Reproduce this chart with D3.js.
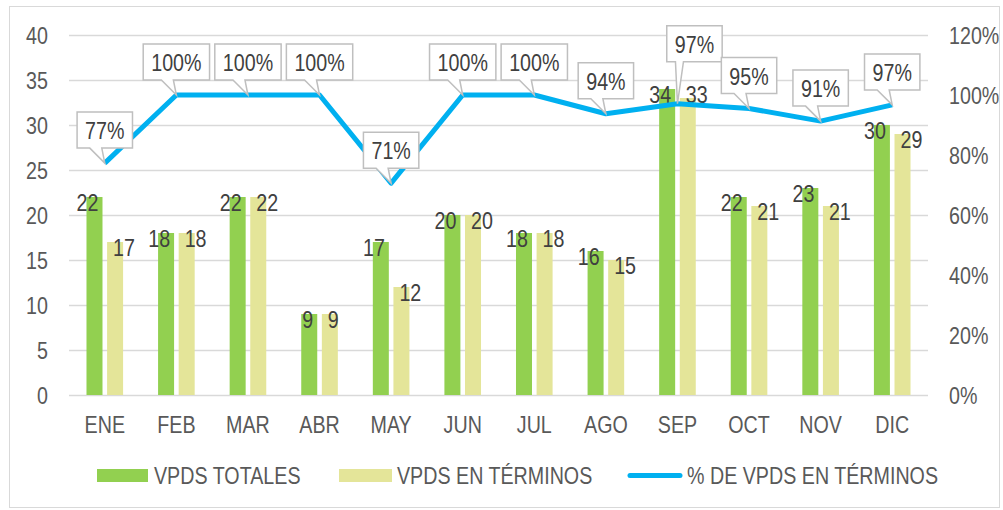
<!DOCTYPE html>
<html><head><meta charset="utf-8">
<script src="https://cdn.jsdelivr.net/npm/d3@7"></script>
<style>
html,body{margin:0;padding:0;background:#fff;}
svg text{font-family:"Liberation Sans",Arial,sans-serif;}
</style></head>
<body>
<svg id="c" width="1003" height="510"></svg>
<script>
const categories = ["ENE","FEB","MAR","ABR","MAY","JUN","JUL","AGO","SEP","OCT","NOV","DIC"];
const vpdsTotales = [22,18,22,9,17,20,18,16,34,22,23,30];
const vpdsEnTerminos = [17,18,22,9,12,20,18,15,33,21,21,29];
const pctEnTerminos = [0.773,1,1,1,0.706,1,1,0.9375,0.971,0.955,0.913,0.967];
const pctLabels = ["77%","100%","100%","100%","71%","100%","100%","94%","97%","95%","91%","97%"];
const leftTicks = [0,5,10,15,20,25,30,35,40];
const rightTicks = [0,0.2,0.4,0.6,0.8,1.0,1.2];
const seriesNames = ["VPDS TOTALES","VPDS EN TÉRMINOS","% DE VPDS EN TÉRMINOS"];

const colors = {green:"#92d050", yellow:"#e4e599", blue:"#00b0f0", grid:"#d9d9d9", axisText:"#595959", label:"#404040", callout:"#bfbfbf"};
const SX = 0.82; // narrow face emulation
const svg = d3.select("#c");
const plot = {left:69, right:928, top:35, bottom:395};

function condense(sel){
  sel.each(function(){
    const t = d3.select(this);
    const xx = +(t.attr("x")||0), yy = +(t.attr("y")||0);
    t.attr("x",0).attr("y",0).attr("transform",`translate(${xx},${yy}) scale(${SX},1)`);
  });
}

// outer frame
svg.append("rect").attr("x",9.5).attr("y",6.5).attr("width",990).attr("height",501)
  .attr("fill","#fff").attr("stroke","#d9d9d9").attr("stroke-width",1);

const x = d3.scaleBand().domain(categories).range([plot.left, plot.right]).paddingInner(0).paddingOuter(0);
const xs = d3.scaleBand().domain([0,1]).range([x.bandwidth()/2 - 18.3, x.bandwidth()/2 + 18.3]).paddingInner(0.223);
const y = d3.scaleLinear().domain([0,40]).range([plot.bottom, plot.top]);
const y2 = d3.scaleLinear().domain([0,1.2]).range([plot.bottom, plot.top]);

// gridlines
svg.append("g").selectAll("line").data(leftTicks).join("line")
  .attr("x1",plot.left).attr("x2",plot.right)
  .attr("y1",d=>Math.round(y(d))+0.5).attr("y2",d=>Math.round(y(d))+0.5)
  .attr("stroke",colors.grid).attr("stroke-width",1.3);

// left axis
const gl = svg.append("g").attr("transform",`translate(${plot.left},0)`)
  .call(d3.axisLeft(y).tickValues(leftTicks).tickSize(0).tickPadding(21));
gl.select(".domain").remove();
gl.selectAll("text").attr("font-size",24).attr("fill",colors.axisText).attr("font-family",null).attr("dy","0.36em").call(condense);

// right axis
const gr = svg.append("g").attr("transform",`translate(${plot.right},0)`)
  .call(d3.axisRight(y2).tickValues(rightTicks).tickSize(0).tickPadding(21).tickFormat(d3.format(".0%")));
gr.select(".domain").remove();
gr.selectAll("text").attr("font-size",24).attr("fill",colors.axisText).attr("font-family",null).attr("dy","0.36em").call(condense);

// x axis
const gx = svg.append("g").attr("transform",`translate(0,${plot.bottom})`)
  .call(d3.axisBottom(x).tickSize(0).tickPadding(21));
gx.select(".domain").remove();
gx.selectAll("text").attr("font-size",24).attr("fill",colors.axisText).attr("font-family",null).attr("dy","0.71em").call(condense);

// bars
const barData = categories.map((c,i)=>({c, v:[vpdsTotales[i], vpdsEnTerminos[i]]}));
const labelShift = {"SEP-1":-9};
const gb = svg.append("g");
const groups = gb.selectAll("g").data(barData).join("g").attr("transform",d=>`translate(${x(d.c)},0)`);
groups.selectAll("rect").data(d=>d.v.map((v,k)=>({v,k}))).join("rect")
  .attr("x",d=>xs(d.k)).attr("width",xs.bandwidth())
  .attr("y",d=>y(d.v)).attr("height",d=>y(0)-y(d.v))
  .attr("fill",d=>d.k===0?colors.green:colors.yellow);

// line
const cx = c => x(c) + x.bandwidth()/2;
const line = d3.line().x((d,i)=>cx(categories[i])).y(d=>y2(d));
svg.append("path").datum(pctEnTerminos).attr("d",line)
  .attr("fill","none").attr("stroke",colors.blue).attr("stroke-width",5).attr("stroke-linejoin","round");

// bar labels
groups.selectAll("text").data(d=>d.v.map((v,k)=>({v,k,c:d.c}))).join("text")
  .attr("x",d=>d.k===0 ? xs(0)+xs.bandwidth()/2+4 : xs(1)+xs.bandwidth()/2-2)
  .attr("y",d=>y(d.v)+14+(labelShift[d.c+"-"+d.k]||0))
  .attr("text-anchor",d=>d.k===0?"end":"start")
  .attr("font-size",24).attr("fill",colors.label)
  .text(d=>d.v).call(condense);
gb.raise();
svg.selectAll("path").filter(function(){return d3.select(this).attr("stroke")===colors.blue;}).raise();

// callouts
const adjust = {SEP:{dx:17, dy:-27, tail:[-2,6]}};
const gc = svg.append("g");
pctEnTerminos.forEach((p,i)=>{
  const c = categories[i];
  const tx = cx(c), ty = y2(p);
  const lab = pctLabels[i];
  const a = adjust[c] || {dx:0, dy:0, tail:[-15,-3]};
  const t = gc.append("text").attr("font-size",24).attr("fill",colors.label).attr("text-anchor","middle").text(lab);
  const w = t.node().getComputedTextLength()*SX + 16;
  const h = 36;
  const bx = tx + a.dx - w/2, bb = ty - 15 + a.dy, by = bb - h;
  const tl = tx + a.tail[0], trr = tx + a.tail[1];
  const path = `M${bx},${by}H${bx+w}V${bb}H${trr}L${tx},${ty}L${tl},${bb}H${bx}Z`;
  gc.insert("path","text").attr("d",path).attr("fill","#fff").attr("stroke",colors.callout).attr("stroke-width",1.5);
  t.attr("x",bx+w/2).attr("y",by+h/2+9).call(condense);
});

// legend
const lg = svg.append("g");
lg.append("rect").attr("x",97).attr("y",469).attr("width",51).attr("height",13).attr("fill",colors.green);
lg.append("text").attr("x",154).attr("y",484).attr("font-size",24).attr("fill",colors.axisText).text(seriesNames[0]).call(condense);
lg.append("rect").attr("x",339).attr("y",469).attr("width",53).attr("height",13).attr("fill",colors.yellow);
lg.append("text").attr("x",397).attr("y",484).attr("font-size",24).attr("fill",colors.axisText).text(seriesNames[1]).call(condense);
lg.append("line").attr("x1",630).attr("x2",680).attr("y1",475.5).attr("y2",475.5).attr("stroke",colors.blue).attr("stroke-width",5).attr("stroke-linecap","round");
lg.append("text").attr("x",687).attr("y",484).attr("font-size",24).attr("fill",colors.axisText).text(seriesNames[2]).call(condense);
</script>
</body></html>
